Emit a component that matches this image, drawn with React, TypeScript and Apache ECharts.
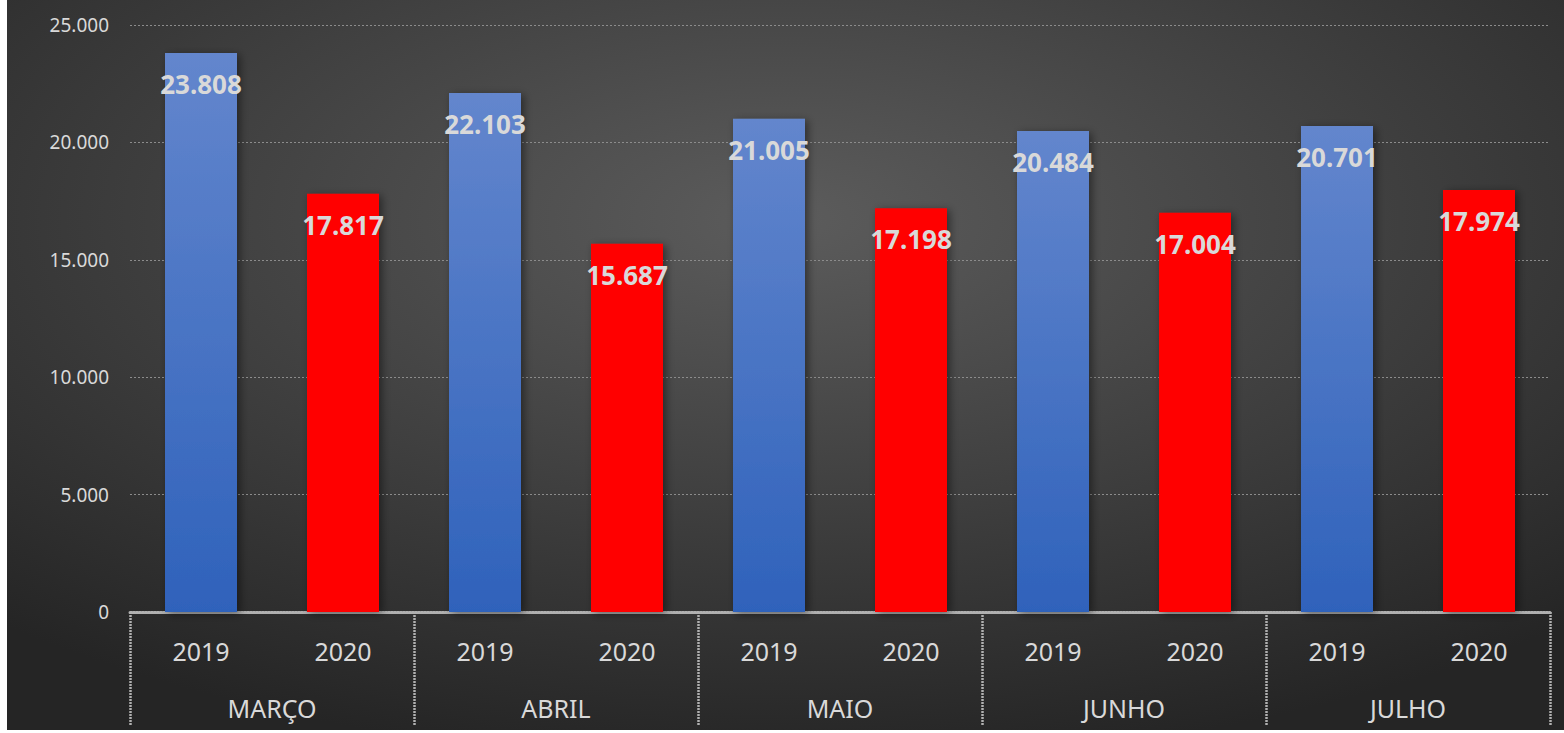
import React, { useEffect, useRef } from "react";
import * as echarts from "echarts";

const months = ["MARÇO", "ABRIL", "MAIO", "JUNHO", "JULHO"];
const years = ["2019", "2020"];
const values2019 = [23808, 22103, 21005, 20484, 20701];
const values2020 = [17817, 15687, 17198, 17004, 17974];
const yTicks = { min: 0, max: 25000, interval: 5000 };

const fmt = (v: number) => String(Math.round(v)).replace(/\B(?=(\d{3})+(?!\d))/g, ".");

const FONT = "Noto Sans";

export default function App() {
  const ref = useRef<HTMLDivElement>(null);
  useEffect(() => {
    const chart = echarts.init(ref.current!, null, { renderer: "svg" });
    const cats: string[] = [];
    const data: any[] = [];
    months.forEach((m, i) => {
      years.forEach((y, j) => {
        cats.push(y);
        const v = j === 0 ? values2019[i] : values2020[i];
        data.push({
          value: v,
          itemStyle: {
            color:
              j === 0
                ? new echarts.graphic.LinearGradient(0, 0, 0, 1, [
                    { offset: 0, color: "#6386cd" },
                    { offset: 1, color: "#2f62bb" },
                  ])
                : "#ff0000",
          },
        });
      });
    });
    chart.setOption({
      animation: false,
      backgroundColor: {
        type: "radial",
        x: 0.5,
        y: 0.3,
        r: 0.75,
        colorStops: [
          { offset: 0, color: "#5c5c5c" },
          { offset: 1, color: "#252525" },
        ],
      },
      grid: { left: 123, right: 14, top: 25, bottom: 118 },
      xAxis: [
        {
          type: "category",
          data: cats,
          position: "bottom",
          axisTick: { show: false },
          axisLine: { show: true, lineStyle: { color: "#b0b0b0", width: 3, type: [2, 1] } },
          axisLabel: { color: "#d9d9d9", fontSize: 25, fontFamily: FONT, margin: 26 },
          splitLine: { show: false },
        },
        {
          type: "category",
          data: months,
          position: "bottom",
          axisLine: { show: false },
          axisTick: {
            show: true,
            length: 113,
            lineStyle: { color: "#b0b0b0", width: 2.5, type: [2, 1] },
          },
          axisLabel: { color: "#d9d9d9", fontSize: 25, fontFamily: FONT, margin: 83 },
          splitLine: { show: false },
        },
      ],
      yAxis: {
        type: "value",
        min: yTicks.min,
        max: yTicks.max,
        interval: yTicks.interval,
        axisLine: { show: false },
        axisTick: { show: false },
        axisLabel: {
          color: "#d9d9d9",
          fontSize: 19,
          fontFamily: FONT,
          margin: 21,
          formatter: (v: number) => fmt(v),
        },
        splitLine: { lineStyle: { color: "#8c8c8c", width: 1, type: [2, 2] } },
      },
      series: [
        {
          type: "bar",
          xAxisIndex: 0,
          data,
          barWidth: 72,
          itemStyle: {
            shadowBlur: 8,
            shadowColor: "rgba(0,0,0,0.45)",
            shadowOffsetX: 3,
            shadowOffsetY: 2,
          },
          label: {
            show: true,
            position: "insideTop",
            distance: 18,
            color: "#d9d9d9",
            fontSize: 26,
            fontWeight: "bold",
            fontFamily: FONT,
            formatter: (p: any) => fmt(p.value),
          },
        },
      ],
    });
    return () => chart.dispose();
  }, []);
  return (
    <div
      ref={ref}
      style={{ position: "absolute", left: 7, top: 0, width: 1557, height: 730 }}
    />
  );
}
